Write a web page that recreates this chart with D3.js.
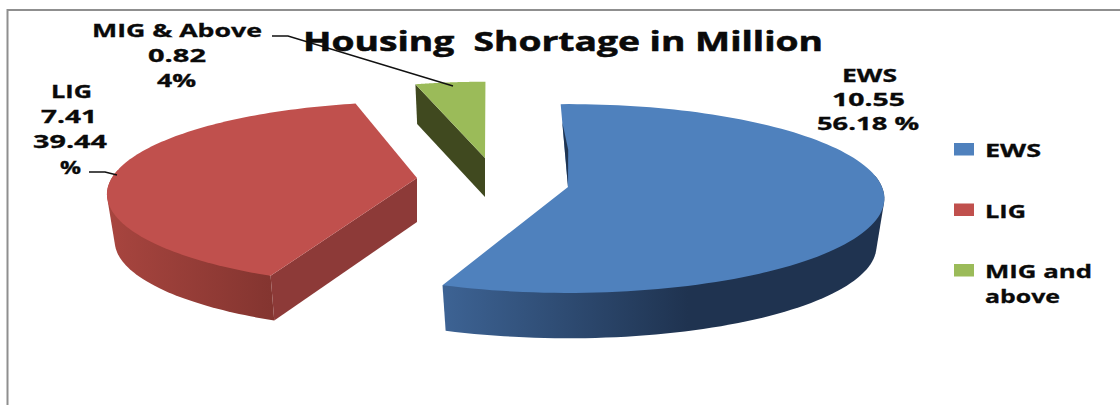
<!DOCTYPE html>
<html>
<head>
<meta charset="utf-8">
<script src="https://cdnjs.cloudflare.com/ajax/libs/d3/7.8.5/d3.min.js"></script>
<style>
  html, body { margin: 0; padding: 0; background: #fff; }
  svg { display: block; }
  text { font-family: "Open Sans", sans-serif; font-weight: 700; fill: #0a0a0a; stroke: #0a0a0a; stroke-width: 0.3; white-space: pre; }
</style>
</head>
<body>
<svg id="chart" width="1120" height="405"></svg>
<script>
// Housing shortage by income group, in million units
const categories = ["EWS", "LIG", "MIG and above"];
const shortage = [10.55, 7.41, 0.82];
const topColors = ["#4f81bd", "#c0504d", "#9bbb59"];

// Exploded wedge placement: apex, radius factor, twist in degrees, rim drop, extrusion depths
const apexX = [568, 417, 485];
const apexY = [187, 178, 158];
const radiusFactor = [1, 0.98, 0.92];
const twist = [0, 4.3, 1.6];
const rimDrop = [0, 5, 0];
const wallDepth = [48, 47, 38];
const cutDepth = [48, 44, 39];

// Rim shading, left to right along the visible wall
const wallFrom = ["#3d6394", "#a8453f", "#40491f"];
const wallTo = ["#1f3350", "#843530", "#40491f"];
const cutColors = ["#1f3552", "#8d3a38", "#40491f"];

const titleText = "Housing  Shortage in Million";
const legendRows = [["EWS"], ["LIG"], ["MIG and", "above"]];

// Callout text: [string, left, baseline, width]
const calloutText = [
  ["MIG & Above", 92, 37, 170], ["0.82", 148, 62, 58], ["4%", 157, 87, 39],
  ["LIG", 51, 98, 41], ["7.41", 41, 123, 56], ["39.44", 33, 148, 74], ["%", 60, 174, 21],
  ["EWS", 842, 82, 55], ["10.55", 832, 106, 73], ["56.18 %", 817, 130, 102]
];
const leaderLines = [
  [[272, 36], [288, 36], [453, 86]],
  [[89, 172], [105, 172], [117, 175]]
];

const svg = d3.select("#chart");
const defs = svg.append("defs");

// Chart frame: only the top and left edges fall inside the page
svg.append("path")
  .attr("d", d3.line()([[1120, 10], [7.5, 10], [7.5, 405]]))
  .attr("fill", "none").attr("stroke", "#8f8f8f").attr("stroke-width", 2);

// Tilted-disc projection: the near side of the disc is drawn larger than the far side.
// Angle 0 points to the far side (up the page), angles run clockwise.
const RX = 314, RY = 93, PERSP = 0.122, SHRINK = 0.975;
function project(angle, scale) {
  const u = Math.sin(angle), v = -Math.cos(angle);
  const w = 1 - PERSP * v;
  return [scale * RX * u / w, scale * RY * v / w];
}

const pie = d3.pie().sort(null).value(d => d)
  .startAngle(-1.5 * Math.PI / 180)
  .endAngle((360 - 1.5) * Math.PI / 180);
const wedges = pie(shortage);
const line = d3.line();

// Draw back to front so the large wedge sits over nothing it should not
[1, 2, 0].forEach(i => {
  const w = wedges[i];
  const rot = twist[i] * Math.PI / 180;
  const a0 = w.startAngle + rot, a1 = w.endAngle + rot;
  const samples = d3.range(0, 121).map(k => a0 + (a1 - a0) * k / 120);
  const s = radiusFactor[i];
  const g = svg.append("g").attr("transform", `translate(${apexX[i]},${apexY[i]})`);

  const upper = a => {
    const p = project(a, s);
    return [p[0], p[1] + rimDrop[i]];
  };
  const lower = a => {
    const p = project(a, s * SHRINK);
    return [p[0], p[1] + rimDrop[i] + wallDepth[i]];
  };
  const topRim = samples.map(upper);

  // Outer wall: the hull of the near part of both rims, shaded across its width
  const near = samples.filter(a => -Math.cos(a) > -0.15);
  if (near.length > 2) {
    const hull = d3.polygonHull(near.map(upper).concat(near.map(lower)));
    const gradId = "wall" + i;
    const grad = defs.append("linearGradient").attr("id", gradId)
      .attr("gradientUnits", "userSpaceOnUse")
      .attr("x1", d3.min(topRim, p => p[0]))
      .attr("x2", i === 0 ? 120 : upper(a0)[0])
      .attr("y1", 0).attr("y2", 0);
    grad.append("stop").attr("offset", 0).attr("stop-color", wallFrom[i]);
    grad.append("stop").attr("offset", 1).attr("stop-color", wallTo[i]);
    g.append("path").attr("d", line(hull) + "Z").attr("fill", `url(#${gradId})`);
  }

  // Cut face along the leading edge
  if (i !== 0) {
    g.append("path")
      .attr("d", line([upper(a0), [0, 0], [0, cutDepth[i]], lower(a0)]) + "Z")
      .attr("fill", cutColors[i]);
  }

  // Top face
  g.append("path").attr("d", line([[0, 0]].concat(topRim)) + "Z").attr("fill", topColors[i]);

  // Thin dark sliver where the first edge of the large wedge turns away
  if (i === 0) {
    const rim0 = upper(a0);
    const at = t => [rim0[0] * t, rim0[1] * t];
    const mid = at(0.45);
    g.append("path")
      .attr("d", line([at(0.78), [mid[0] + 3.5, mid[1]], [0, 0]]) + "Z")
      .attr("fill", cutColors[0]);
  }
});

// Leader lines
svg.selectAll("path.leader").data(leaderLines).join("path")
  .attr("class", "leader")
  .attr("d", d => line(d))
  .attr("fill", "none").attr("stroke", "#111").attr("stroke-width", 1.4);

// Title
svg.append("text").text(titleText)
  .attr("x", 303).attr("y", 51)
  .attr("font-size", 26)
  .style("stroke-width", "0.5px")
  .attr("textLength", 520).attr("lengthAdjust", "spacingAndGlyphs");

// Callouts
svg.selectAll("text.callout").data(calloutText).join("text")
  .attr("class", "callout")
  .text(d => d[0])
  .attr("x", d => d[1]).attr("y", d => d[2])
  .attr("font-size", 17.5)
  .attr("textLength", d => d[3]).attr("lengthAdjust", "spacingAndGlyphs");

// Legend
const legendY = d3.scalePoint().domain(categories).range([143, 264]);
const legendWidths = [[56], [41], [107, 75]];
categories.forEach((c, i) => {
  const y = legendY(c);
  svg.append("rect").attr("x", 954).attr("y", y).attr("width", 20).attr("height", 12.5)
    .attr("fill", topColors[i]);
  legendRows[i].forEach((t, j) => {
    svg.append("text").text(t)
      .attr("x", 985).attr("y", y + 14 + j * 25)
      .attr("font-size", 17.5)
      .attr("textLength", legendWidths[i][j]).attr("lengthAdjust", "spacingAndGlyphs");
  });
});
</script>
</body>
</html>
